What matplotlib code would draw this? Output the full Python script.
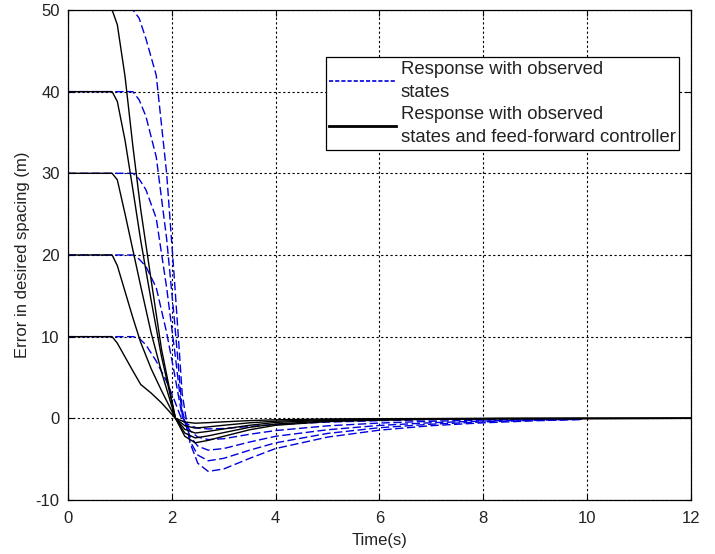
import matplotlib
matplotlib.use("Agg")
from matplotlib import pyplot as plt
from matplotlib.lines import Line2D

plt.rcParams['font.family'] = ['Liberation Sans', 'DejaVu Sans']
plt.rcParams['axes.unicode_minus'] = False

# initial spacing errors (m)
levels = [10, 20, 30, 40, 50]

# response with observed states and feed-forward controller (black)
ff_t = [0, 0.85, 0.95, 1.1, 1.25, 1.4, 1.6, 1.8, 2.07, 2.25, 2.45, 2.7, 3.0, 3.5, 4.0, 5.0, 6.0, 7.0, 8.3, 12.0]
ff_10 = [10, 10, 9.2, 7.5, 5.8, 4.15, 3.1, 1.9, 0, -0.45, -0.6, -0.53, -0.43, -0.28, -0.18, -0.08, -0.05, -0.03, -0.01, 0]
ff_20 = [20, 20, 18.7, 15.5, 12.3, 9.3, 6.1, 3.4, 0, -0.9, -1.2, -1.05, -0.85, -0.55, -0.35, -0.16, -0.09, -0.05, -0.02, 0]
ff_30 = [30, 30, 29.2, 25, 20.6, 16.2, 10.5, 5.7, 0, -1.35, -1.8, -1.6, -1.3, -0.85, -0.5, -0.24, -0.13, -0.07, -0.03, 0]
ff_40 = [40, 40, 38.8, 34, 28, 21.8, 14.5, 7.6, 0, -1.8, -2.4, -2.15, -1.75, -1.1, -0.7, -0.32, -0.18, -0.1, -0.04, 0]
ff_50 = [50, 50, 48.2, 41.8, 33.3, 25.6, 17, 8.5, 0, -2.2, -3.0, -2.7, -2.2, -1.4, -0.85, -0.4, -0.22, -0.12, -0.05, 0]

# response with observed states only (blue dashed)
obs_t = [0, 1.25, 1.37, 1.5, 1.7, 1.9, 2.05, 2.2, 2.35, 2.5, 2.7, 3.0, 3.5, 4.0, 5.0, 6.0, 7.0, 8.0, 9.0, 9.9]
obs_10 = [10, 10, 9.8, 9.0, 7.0, 4.5, 2.2, -0.3, -0.9, -1.2, -1.3, -1.25, -1.0, -0.75, -0.46, -0.29, -0.18, -0.11, -0.06, -0.03]
obs_20 = [20, 20, 19.5, 18.6, 16, 10.5, 5.5, 0.2, -1.5, -2.3, -2.6, -2.5, -1.95, -1.5, -0.92, -0.58, -0.36, -0.22, -0.12, -0.06]
obs_30 = [30, 30, 29.3, 28, 24.5, 16, 8.5, 0.5, -2.2, -3.4, -3.9, -3.7, -2.9, -2.2, -1.4, -0.87, -0.54, -0.33, -0.18, -0.09]
obs_40 = [40, 40, 39, 37, 32, 22, 12, 1, -2.8, -4.5, -5.2, -4.9, -3.9, -3.0, -1.85, -1.15, -0.72, -0.44, -0.25, -0.12]
obs_50 = [50, 50, 49, 46.5, 42, 30, 17, 3, -3, -5.5, -6.5, -6.2, -4.9, -3.7, -2.3, -1.45, -0.9, -0.55, -0.3, -0.15]

fig = plt.figure(figsize=(7.15, 5.54), dpi=100)
ax = fig.add_axes([0.0951, 0.0975, 0.8713, 0.8845])

blue = '#0000dd'
for y in [obs_10, obs_20, obs_30, obs_40, obs_50]:
    ax.plot(obs_t, y, color=blue, lw=1.0, dashes=(6, 2.5), zorder=2)
for y in [ff_10, ff_20, ff_30, ff_40, ff_50]:
    ax.plot(ff_t, y, color='black', lw=1.0, zorder=3)

ax.set_xlim(0, 12)
ax.set_ylim(-10, 50)
ax.set_xticks(range(0, 13, 2))
ax.set_yticks(range(-10, 51, 10))
ax.grid(True, color='black', linestyle=(0, (2, 2.2)), linewidth=0.8)
ax.tick_params(direction='in', top=True, right=True, length=4.5, labelsize=12,
               labelcolor='#222222')
ax.tick_params(axis='x', pad=8)
ax.tick_params(axis='y', pad=6)
for s in ax.spines.values():
    s.set_linewidth(0.9)

ax.set_xlabel('Time(s)', fontsize=12, labelpad=5, color='#222222')
ax.set_ylabel('Error in desired spacing (m)', fontsize=12, labelpad=4, color='#222222')

handles = [Line2D([], [], color=blue, lw=1.2, dashes=(2.5, 1.2)),
           Line2D([], [], color='black', lw=2.0)]
labels = ['Response with observed\nstates',
          'Response with observed\nstates and feed-forward controller']
leg = ax.legend(handles, labels, loc='upper right', bbox_to_anchor=(0.981, 0.904),
                borderaxespad=0, fancybox=False, framealpha=1, edgecolor='black',
                fontsize=13.3, handlelength=3.6, handletextpad=0.25, labelspacing=0.3,
                borderpad=0.2)
leg.get_frame().set_linewidth(0.9)
for t in leg.get_texts():
    t.set_linespacing(1.45)
    t.set_color('#222222')

fig.savefig('out.png', dpi=100)
